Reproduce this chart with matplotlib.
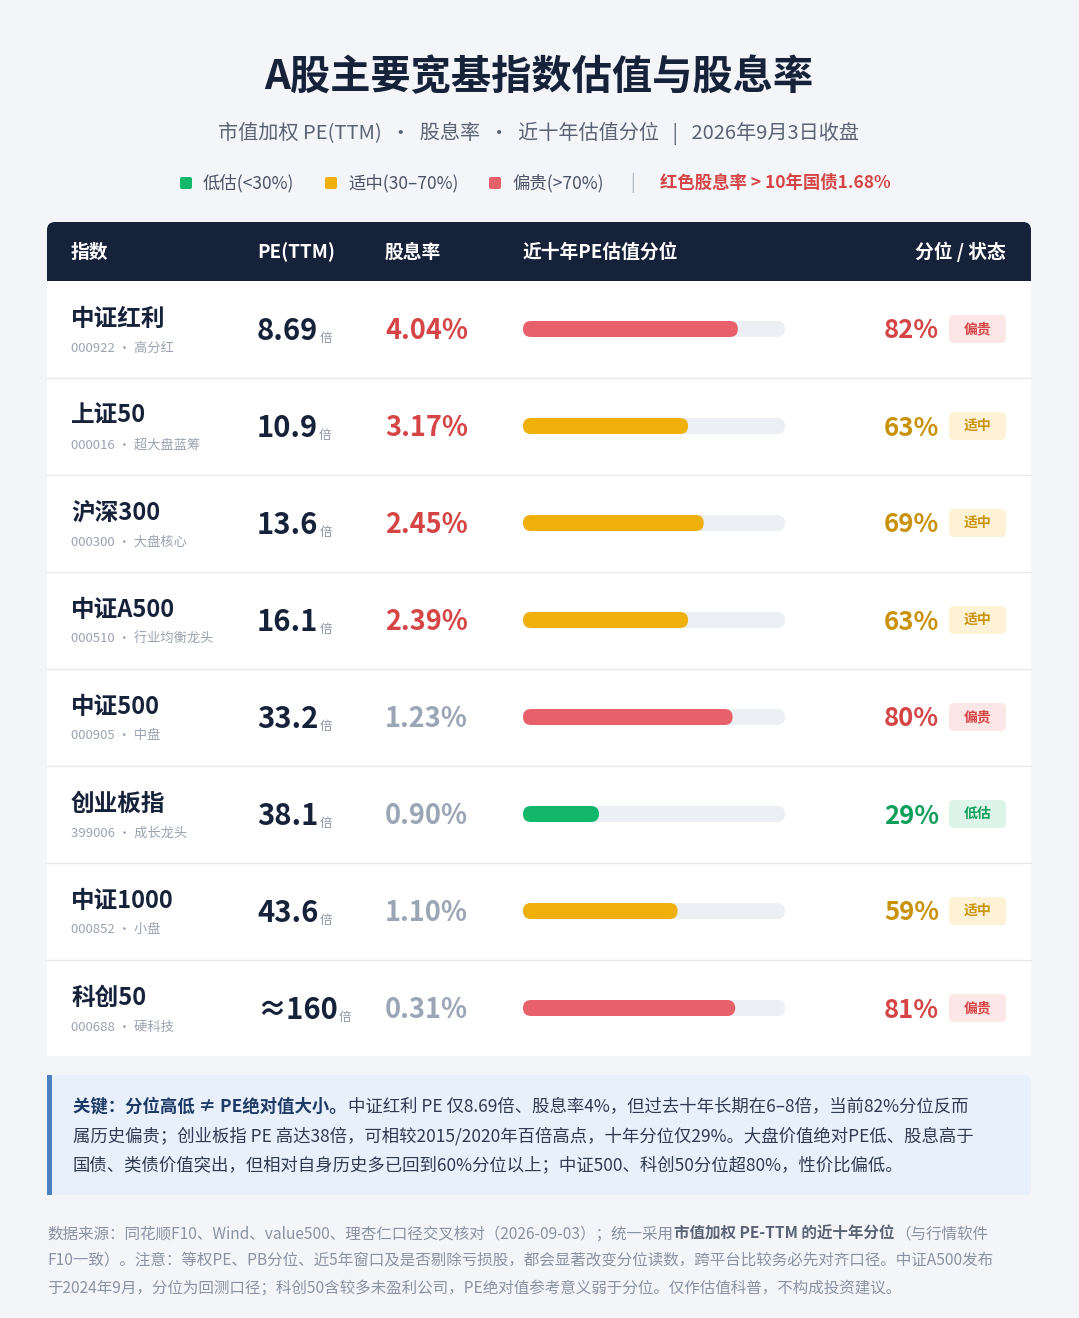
import matplotlib
matplotlib.use("Agg")
import matplotlib.pyplot as plt
from matplotlib.patches import FancyBboxPatch, Rectangle

plt.rcParams['font.family'] = ['Noto Sans CJK SC', 'DejaVu Sans']

# ---- data ----
names = ["中证红利", "上证50", "沪深300", "中证A500", "中证500", "创业板指", "中证1000", "科创50"]
codes = ["000922 · 高分红", "000016 · 超大盘蓝筹", "000300 · 大盘核心", "000510 · 行业均衡龙头",
         "000905 · 中盘", "399006 · 成长龙头", "000852 · 小盘", "000688 · 硬科技"]
pe_labels = ["8.69", "10.9", "13.6", "16.1", "33.2", "38.1", "43.6", "≈160"]
dividend = [4.04, 3.17, 2.45, 2.39, 1.23, 0.90, 1.10, 0.31]
percentile = [82, 63, 69, 63, 80, 29, 59, 81]
bond_yield = 1.68

W, H = 1079, 1318
fig = plt.figure(figsize=(W / 100, H / 100), dpi=100)
fig.patch.set_facecolor("#f3f5f9")
ax = fig.add_axes([0, 0, 1, 1])
ax.set_xlim(0, W)
ax.set_ylim(H, 0)
ax.axis("off")
fig.canvas.draw()
rend = fig.canvas.get_renderer()

NAVY = "#16213a"
RED, AMB, GRN = "#e8606a", "#f0b00c", "#12b76a"
RED_T, AMB_T, GRN_T = "#d64545", "#c9920a", "#0e9f5a"
GREY = "#9aa5b5"

def status(p):
    if p < 30:
        return GRN, GRN_T, "#dcf5e8", "低估"
    if p <= 70:
        return AMB, AMB_T, "#fdf1d6", "适中"
    return RED, RED_T, "#fde6e6", "偏贵"

def run_text(x, y, parts, **kw):
    # draw consecutive text pieces (text, weight, color) on one line
    for s, wt, c in parts:
        t = ax.text(x, y, s, va="center", fontweight=wt, color=c, **kw)
        x = t.get_window_extent(renderer=rend).x1 + 1
    return x

# title
ax.text(539, 78, "A股主要宽基指数估值与股息率", ha="center", va="center", fontsize=29,
        fontweight="bold", color=NAVY)
ax.text(539, 133, "市值加权 PE(TTM)  ·  股息率  ·  近十年估值分位   |   2026年9月3日收盘",
        ha="center", va="center", fontsize=14.5, color="#5b6475")

# legend
for x, c, t in [(186, GRN, "低估(<30%)"), (331, AMB, "适中(30–70%)"), (495, RED, "偏贵(>70%)")]:
    ax.add_patch(FancyBboxPatch((x - 6, 177), 12, 12, boxstyle="round,pad=0,rounding_size=2",
                                fc=c, ec="none"))
    ax.text(x + 17, 183, t, va="center", fontsize=12.5, color="#4a5365")
ax.text(630, 183, "|", va="center", fontsize=12.5, color="#b0b7c3")
ax.text(660, 183, "红色股息率 > 10年国债1.68%", va="center", fontsize=12.5,
        color=RED_T, fontweight="bold")

# table header
ax.add_patch(FancyBboxPatch((47, 222), 984, 58, boxstyle="round,pad=0,rounding_size=8",
                            fc=NAVY, ec="none"))
ax.add_patch(Rectangle((47, 260), 984, 21, fc=NAVY, ec="none"))
hy = 252
for x, t, ha in [(71, "指数", "left"), (257, "PE(TTM)", "left"), (385, "股息率", "left"),
                 (523, "近十年PE估值分位", "left"), (1006, "分位 / 状态", "right")]:
    ax.text(x, hy, t, ha=ha, va="center", fontsize=13.5, color="white", fontweight="bold")

ax.add_patch(Rectangle((47, 281), 984, 775, fc="white", ec="none"))
row_h = 97
track_x, track_w = 523, 262
for i in range(len(names)):
    top = 281 + row_h * i
    cy = top + 48
    if i > 0:
        ax.plot([47, 1031], [top, top], color="#e6e9ef", lw=1)
    ax.text(71, cy - 10, names[i], va="center", fontsize=17, fontweight="bold", color=NAVY)
    ax.text(71, cy + 19, codes[i], va="center", fontsize=9.5, color="#9aa3b2")
    t = ax.text(257, cy + 2, pe_labels[i], va="center", fontsize=21, fontweight="bold", color=NAVY)
    bb = t.get_window_extent(renderer=rend)
    ax.text(bb.x1 + 1, cy + 9, "倍", va="center", fontsize=9, color="#8a93a3")
    dc = RED_T if dividend[i] > bond_yield else GREY
    ax.text(385, cy + 2, f"{dividend[i]:.2f}%", va="center", fontsize=19.5, fontweight="bold", color=dc)
    bar_c, txt_c, bg_c, lab = status(percentile[i])
    ax.add_patch(FancyBboxPatch((track_x, cy - 8), track_w, 16,
                                boxstyle="round,pad=0,rounding_size=8", fc="#eceff4", ec="none"))
    ax.add_patch(FancyBboxPatch((track_x, cy - 8), track_w * percentile[i] / 100, 16,
                                boxstyle="round,pad=0,rounding_size=8", fc=bar_c, ec="none"))
    ax.text(939, cy + 2, f"{percentile[i]}%", ha="right", va="center", fontsize=18.5,
            fontweight="bold", color=txt_c)
    ax.add_patch(FancyBboxPatch((949, cy - 14), 57, 28, boxstyle="round,pad=0,rounding_size=5",
                                fc=bg_c, ec="none"))
    ax.text(977.5, cy, lab, ha="center", va="center", fontsize=10, fontweight="bold", color=txt_c)

# note box
ax.add_patch(FancyBboxPatch((47, 1075), 984, 120, boxstyle="round,pad=0,rounding_size=6",
                            fc="#e8f0fb", ec="none"))
ax.add_patch(Rectangle((47, 1075), 5, 120, fc="#4a7fc1", ec="none"))
note_lines = [
    [("关键：分位高低 ≠ PE绝对值大小。", "bold", "#1d3b66"),
     ("中证红利 PE 仅8.69倍、股息率4%，但过去十年长期在6–8倍，当前82%分位反而", "normal", "#2f3b52")],
    [("属历史偏贵；创业板指 PE 高达38倍，可相较2015/2020年百倍高点，十年分位仅29%。大盘价值绝对PE低、股息高于", "normal", "#2f3b52")],
    [("国债、类债价值突出，但相对自身历史多已回到60%分位以上；中证500、科创50分位超80%，性价比偏低。", "normal", "#2f3b52")],
]
for k, parts in enumerate(note_lines):
    run_text(73, 1107 + 29.5 * k, parts, fontsize=12.5)

# footer
FG = "#8a93a3"
foot = [
    [("数据来源：同花顺F10、Wind、value500、理杏仁口径交叉核对（2026-09-03）；统一采用", "normal", FG),
     ("市值加权 PE-TTM 的近十年分位", "bold", "#5b6475"),
     ("（与行情软件", "normal", FG)],
    [("F10一致）。注意：等权PE、PB分位、近5年窗口及是否剔除亏损股，都会显著改变分位读数，跨平台比较务必先对齐口径。中证A500发布", "normal", FG)],
    [("于2024年9月，分位为回测口径；科创50含较多未盈利公司，PE绝对值参考意义弱于分位。仅作估值科普，不构成投资建议。", "normal", FG)],
]
for k, parts in enumerate(foot):
    run_text(47, 1234 + 27 * k, parts, fontsize=11.2)

fig.savefig("out.png", dpi=100, facecolor=fig.get_facecolor())
